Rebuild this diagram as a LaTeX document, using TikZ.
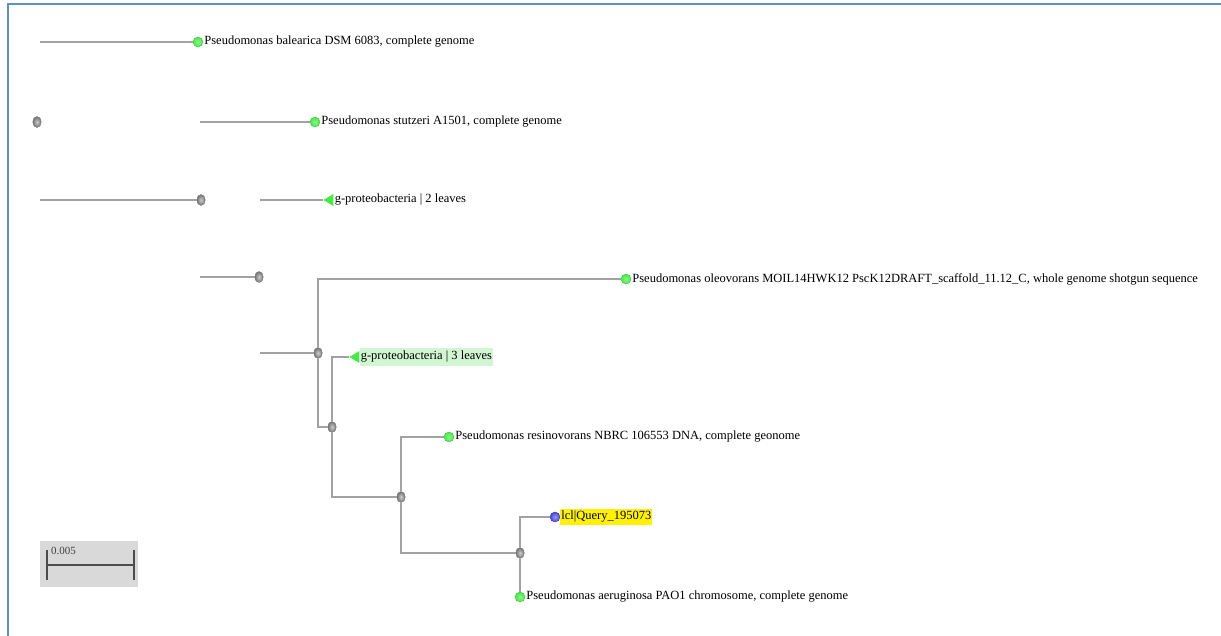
\documentclass[tikz,border=0pt]{standalone}
\usepackage{fontspec}
\setmainfont{Liberation Serif}
\usetikzlibrary{shapes.geometric}
\definecolor{framecol}{HTML}{5B8FD0}
\definecolor{branchcol}{HTML}{A2A2A2}
\definecolor{leafcol}{HTML}{45EA45}
\definecolor{querycol}{HTML}{4545E0}
\definecolor{hlgreen}{HTML}{D2F5D2}
\begin{document}
\begin{tikzpicture}[%
        x=1pt, y=-1pt,
        innernode/.style={shape=ellipse, inner sep=0pt, minimum width=8.5pt, minimum height=11pt,
            inner color=black!20, outer color=black!55, draw=black!55, line width=0.4pt},
        leafnode/.style={shape=circle, inner sep=0pt, minimum size=10pt,
            inner color=leafcol!60!white, outer color=leafcol, draw=leafcol!85!black, line width=0.4pt},
        querynode/.style={shape=circle, inner sep=0pt, minimum size=10pt,
            inner color=querycol!55!white, outer color=querycol, draw=querycol!80!black, line width=0.4pt},
        groupnode/.style={shape=isosceles triangle, shape border rotate=180, isosceles triangle stretches,
            fill=leafcol, inner sep=0pt, minimum height=10pt, minimum width=12pt},
        branch/.style={draw=branchcol, line width=1.2pt},
        taxon/.style={anchor=west, inner sep=1pt, font=\fontsize{12.5}{14}\selectfont}
    ]
        \useasboundingbox (0,0) rectangle (1221,636);
        \draw [framecol, line width=2.2pt] (8,636) -- (8,4) -- (1221,4);

        % inner nodes
        \foreach \n/\x/\y in {root/37/122, d/201/200, f/259/277, g/318/353,
                              j/332/427, k/401/497, m/520/553}
            \node [innernode] (\n) at (\x,\y) {};

        % leaves
        \foreach \n/\x/\y in {bal/198/42, stu/315/122, ole/626/279,
                              res/449/437, aer/520/597}
            \node [leafnode] (\n) at (\x,\y) {};
        \node [querynode] (qry) at (555,517) {};
        \node [groupnode] (grpa) at (330,200) {};
        \node [groupnode] (grpb) at (356,357) {};

        % labels
        \foreach \n/\txt in {%
                bal/{Pseudomonas balearica DSM 6083, complete genome},
                stu/{Pseudomonas stutzeri A1501, complete genome},
                grpa/{g-proteobacteria | 2 leaves},
                ole/{Pseudomonas oleovorans MOIL14HWK12 PscK12DRAFT\_scaffold\_11.12\_C, whole genome shotgun sequence},
                res/{Pseudomonas resinovorans NBRC 106553 DNA, complete geonome},
                aer/{Pseudomonas aeruginosa PAO1 chromosome, complete genome}}
            \node [taxon] (\n-txt) at (\n.east) {\txt};
        \node [taxon, fill=hlgreen, inner ysep=3pt] (grpb-txt) at (grpb.east) {g-proteobacteria | 3 leaves};
        \node [taxon, fill=yellow, inner ysep=2pt] (qry-txt) at (qry.east) {lcl|Query\_195073};

        % loose branches
        \coordinate (bal0) at (40,42);
        \coordinate (stu0) at (200,122);
        \coordinate (d0) at (40,200);
        \coordinate (grpa0) at (260,200);
        \coordinate (f0) at (200,277);
        \coordinate (g0) at (260,353);
        \foreach \a/\b in {bal0/bal, stu0/stu, d0/d, grpa0/grpa, f0/f, g0/g}
            \draw [branch] (\a) -- (\b);

        % tree
        \foreach \a/\b in {g/ole, g/j, j/grpb, j/k, k/res, k/m, m/qry}
            \draw [branch] (\a) |- (\b);
        \draw [branch] (m) -- (aer);

        % scale bar
        \node [fill=black!15, minimum width=98pt, minimum height=46pt, inner sep=0pt] (scalebox) at (89,564) {};
        \coordinate (sbl) at (47,565);
        \coordinate (sbr) at (134,565);
        \draw [black!70, line width=1.8pt] (sbl) -- (sbr);
        \draw [black!70, line width=1.8pt] ([yshift=-15pt]sbl) -- ([yshift=15pt]sbl);
        \draw [black!70, line width=1.8pt] ([yshift=-15pt]sbr) -- ([yshift=15pt]sbr);
        \node [anchor=west, inner sep=0pt, font=\fontsize{11}{12}\selectfont, black!75] (sblabel) at (51,551) {0.005};
\end{tikzpicture}
\end{document}
